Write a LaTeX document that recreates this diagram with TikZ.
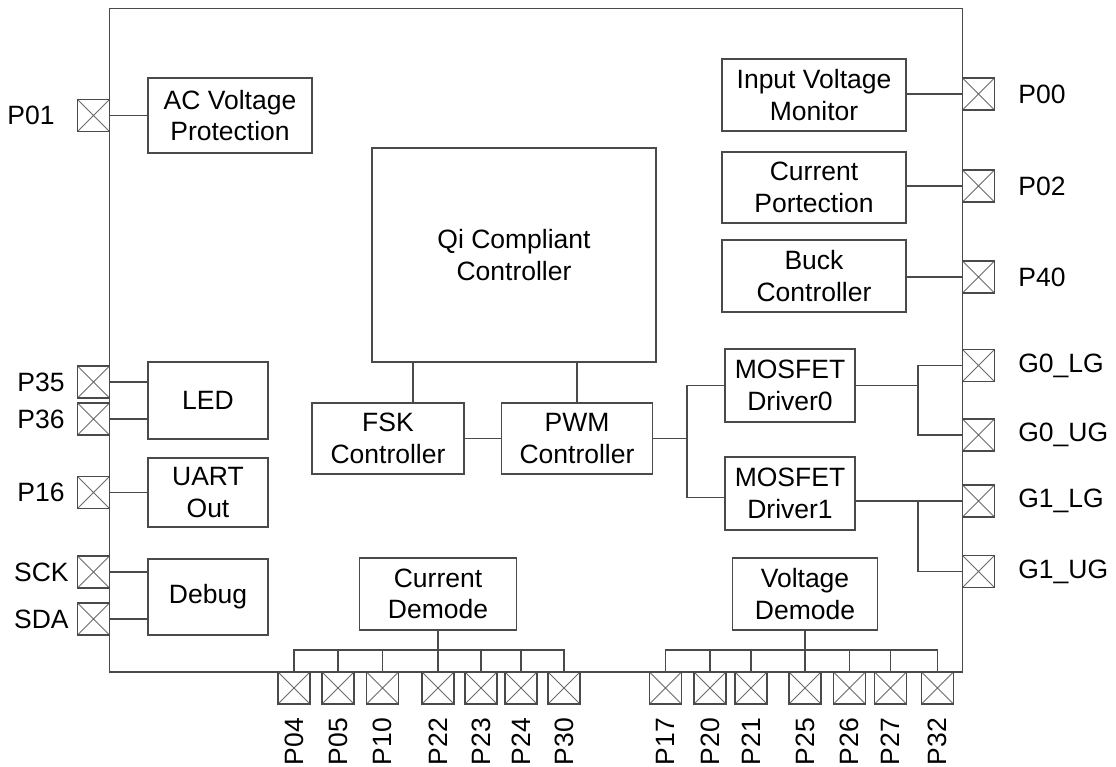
\documentclass[tikz,border=0pt]{standalone}
\usepackage{fontspec}
\setmainfont{Liberation Sans}
\definecolor{ln}{HTML}{4A4A4A}
\definecolor{xl}{HTML}{6A6A6A}
\begin{document}
\begin{tikzpicture}[x=1pt,y=-1pt,
  every node/.style={font=\fontsize{26.5}{31.5}\selectfont, inner sep=0pt},
  blk/.style={draw=ln, line width=1.5pt, align=center},
  pinbox/.style={draw=ln, line width=1.3pt, minimum size=32pt,
    path picture={\draw[xl, line width=0.9pt]
      (path picture bounding box.north west) -- (path picture bounding box.south east)
      (path picture bounding box.south west) -- (path picture bounding box.north east);}},
  wire/.style={draw=ln, line width=1.5pt}]
\useasboundingbox (0,0) rectangle (1116,767);
% chip outline
\node[blk, minimum width=853pt, minimum height=663.5pt] (chip) at (536,340.25) {};
% blocks
\node[blk, minimum width=164pt, minimum height=75pt] (acv) at (230,115.5) {AC Voltage\\Protection};
\node[blk, minimum width=184pt, minimum height=72pt] (ivm) at (814,95) {Input Voltage\\Monitor};
\node[blk, minimum width=184pt, minimum height=71pt] (cp) at (814,187.5) {Current\\Portection};
\node[blk, minimum width=184pt, minimum height=72pt] (buck) at (814,276) {Buck\\Controller};
\node[blk, minimum width=284pt, minimum height=214pt] (qi) at (514,255) {Qi Compliant\\Controller};
\node[blk, minimum width=152pt, minimum height=71pt] (fsk) at (388,438.5) {FSK\\Controller};
\node[blk, minimum width=151pt, minimum height=71pt] (pwm) at (577,438.5) {PWM\\Controller};
\node[blk, minimum width=130pt, minimum height=73pt] (drv0) at (790,385.5) {MOSFET\\Driver0};
\node[blk, minimum width=130pt, minimum height=73pt] (drv1) at (790,493.5) {MOSFET\\Driver1};
\node[blk, minimum width=120pt, minimum height=77pt] (led) at (208,400.5) {LED};
\node[blk, minimum width=120pt, minimum height=69pt] (uart) at (208,492.5) {UART\\Out};
\node[blk, minimum width=120pt, minimum height=76pt] (debug) at (208,597) {Debug};
\node[blk, minimum width=157pt, minimum height=72pt] (cdm) at (438,594) {Current\\Demode};
\node[blk, minimum width=145pt, minimum height=72pt] (vdm) at (805,594) {Voltage\\Demode};
% left pins
\foreach \n/\y in {p01/115.5, p35/382, p36/419, p16/492.5, sck/572, sda/619} {
  \node[pinbox] (\n) at (93.5,\y) {};
}
\node[anchor=east] (lp01) at ([xshift=-22pt]p01.west) {P01};
\node[anchor=east] (lp35) at ([xshift=-12pt]p35.west) {P35};
\node[anchor=east] (lp36) at ([xshift=-12pt]p36.west) {P36};
\node[anchor=east] (lp16) at ([xshift=-12pt]p16.west) {P16};
\node[anchor=east] (lsck) at ([xshift=-8pt]sck.west) {SCK};
\node[anchor=east] (lsda) at ([xshift=-8pt]sda.west) {SDA};
% right pins
\foreach \n/\y/\g in {p00/94/P00, p02/186/P02, p40/277/P40, g0lg/365.5/G0\_LG, g0ug/435/G0\_UG, g1lg/501/G1\_LG, g1ug/571.5/G1\_UG} {
  \node[pinbox] (\n) at (978.5,\y) {};
  \node[anchor=west] (l\n) at ([xshift=23pt]\n.east) {\g};
}
% bottom pins
\foreach \n/\x in {04/294,05/338,10/382.5,22/438,23/481,24/521,30/564,17/665.5,20/710,21/751,25/805,26/849.5,27/890.5,32/937.5} {
  \node[pinbox] (p\n) at (\x,688) {};
  \node[rotate=90, anchor=east] (lb\n) at ([yshift=-13pt]p\n.south) {P\n};
}
% left connections
\draw[wire] (p01.east) -- (acv.west |- p01);
\draw[wire] (p35.east) -- (led.west |- p35);
\draw[wire] (p36.east) -- (led.west |- p36);
\draw[wire] (p16.east) -- (uart.west |- p16);
\draw[wire] (sck.east) -- (debug.west |- sck);
\draw[wire] (sda.east) -- (debug.west |- sda);
% right connections
\draw[wire] (ivm.east |- p00) -- (p00.west);
\draw[wire] (cp.east |- p02) -- (p02.west);
\draw[wire] (buck.east |- p40) -- (p40.west);
% core connections
\draw[wire] ([xshift=25pt]fsk.north) -- ([xshift=25pt]fsk.north |- qi.south);
\draw[wire] (pwm.north) -- (pwm.north |- qi.south);
\draw[wire] (fsk.east) -- (pwm.west);
\coordinate (fork) at (687,438.5);
\draw[wire] (pwm.east) -- (fork);
\draw[wire] (drv0.west) -| (fork) |- ([yshift=-4pt]drv1.west);
% driver outputs
\coordinate (j0) at (918,385.5);
\draw[wire] (drv0.east) -- (j0);
\draw[wire] (g0lg.west) -| (j0) |- (g0ug.west);
\draw[wire] (drv1.east |- g1lg) -- (g1lg.west);
\coordinate (j1) at (918,501);
\draw[wire] (j1) |- (g1ug.west);
% bottom buses
\coordinate (busy) at (0,650);
\draw[wire] (p04.north) |- (p30.north |- busy) -- (p30.north);
\foreach \n in {05,10,22,23,24} \draw[wire] (p\n.north) -- (p\n.north |- busy);
\draw[wire] (cdm.south) -- (cdm.south |- busy);
\draw[wire] (p17.north) |- (p32.north |- busy) -- (p32.north);
\foreach \n in {20,21,25,26,27} \draw[wire] (p\n.north) -- (p\n.north |- busy);
\draw[wire] (vdm.south) -- (vdm.south |- busy);
\end{tikzpicture}
\end{document}
